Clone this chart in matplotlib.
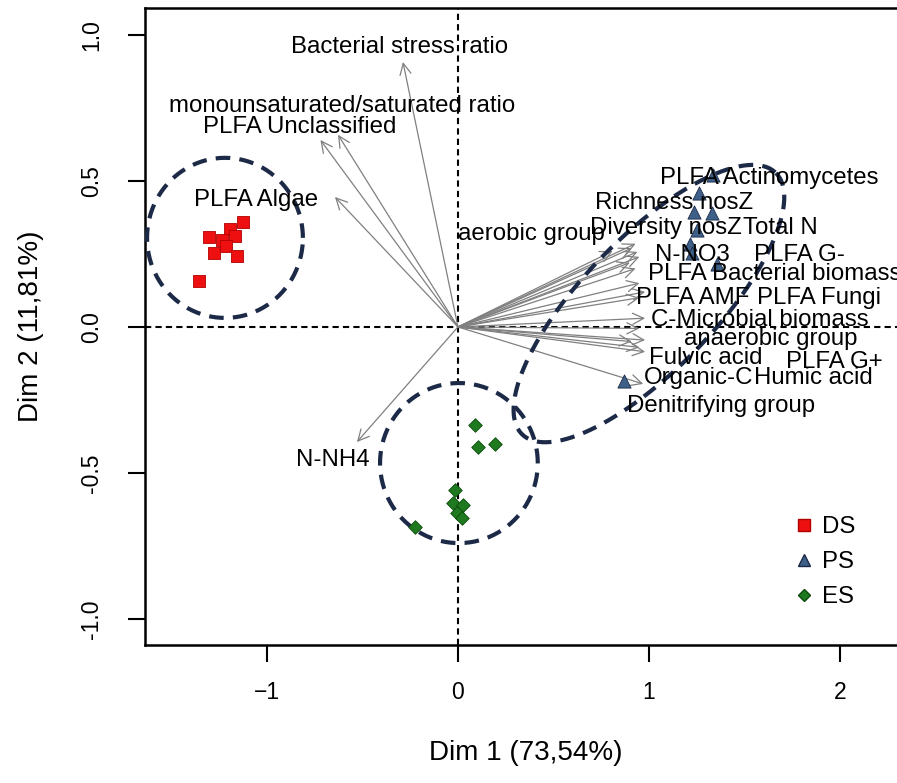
import numpy as np
import matplotlib
matplotlib.use('Agg')
import matplotlib.pyplot as plt
from matplotlib.lines import Line2D

plt.rcParams['font.family'] = ['Liberation Sans', 'DejaVu Sans']

# sample scores (Dim 1, Dim 2)
ds_x = [-1.126, -1.194, -1.304, -1.236, -1.168, -1.215, -1.277, -1.157, -1.356]
ds_y = [0.360, 0.336, 0.308, 0.298, 0.312, 0.277, 0.253, 0.243, 0.158]
ps_x = [1.335, 1.262, 1.236, 1.330, 1.251, 1.215, 1.225, 1.356, 0.869]
ps_y = [0.521, 0.459, 0.394, 0.390, 0.332, 0.284, 0.253, 0.216, -0.185]
es_x = [0.089, 0.105, 0.194, -0.016, -0.026, 0.026, -0.005, 0.021, -0.225]
es_y = [-0.336, -0.411, -0.401, -0.558, -0.603, -0.610, -0.637, -0.654, -0.685]

# variable loadings (arrow tips) and where their names sit
var_names = ['Bacterial stress ratio', 'monounsaturated/saturated ratio', 'PLFA Unclassified',
             'PLFA Algae', 'N-NH4', 'aerobic group', 'PLFA Actinomycetes', 'Richness nosZ',
             'Diversity nosZ', 'Total N', 'N-NO3', 'PLFA G-', 'PLFA Bacterial biomass',
             'PLFA AMF', 'PLFA Fungi', 'C-Microbial biomass', 'anaerobic group',
             'Fulvic acid', 'PLFA G+', 'Organic-C', 'Humic acid', 'Denitrifying group']
var_x = [-0.288, -0.628, -0.720, -0.644, -0.529, 0.81, 0.93, 0.91, 0.94, 0.95, 0.90, 0.93,
         0.95, 0.98, 0.95, 0.98, 0.95, 0.98, 0.95, 0.91, 0.98, 0.97]
var_y = [0.907, 0.658, 0.640, 0.445, -0.394, 0.26, 0.285, 0.27, 0.257, 0.24, 0.22, 0.20,
         0.15, 0.12, 0.10, 0.03, -0.005, -0.045, -0.07, -0.05, -0.085, -0.195]
lab_x = [-0.304, -0.607, -0.827, -1.058, -0.654, 0.387, 1.63, 1.13, 1.09, 1.69, 1.23, 1.79,
         1.66, 1.23, 1.89, 1.58, 1.64, 1.30, 1.97, 1.26, 1.86, 1.38]
lab_y = [0.959, 0.757, 0.685, 0.435, -0.455, 0.318, 0.51, 0.425, 0.34, 0.34, 0.245, 0.245,
         0.18, 0.10, 0.10, 0.025, -0.04, -0.105, -0.12, -0.175, -0.175, -0.27]

# group ellipses: centre, first and second half-axis vectors
ell_cx = [-1.22, 1.0, 0.005]
ell_cy = [0.305, 0.08, -0.466]
ell_ax = [(0.408, 0.0), (0.665, 0.447), (0.413, 0.0)]
ell_bx = [(0.0, 0.274), (0.245, -0.160), (0.0, 0.274)]

fig = plt.figure(figsize=(8.97, 7.83), dpi=100)
ax = fig.add_axes([0.1616, 0.1762, 0.8484, 0.8136])

ax.axhline(0, color='black', ls=(0, (3, 2)), lw=1.5, zorder=1)
ax.axvline(0, color='black', ls=(0, (3, 2)), lw=1.5, zorder=1)

for x, y in zip(var_x, var_y):
    ax.annotate('', xy=(x, y), xytext=(0, 0),
                arrowprops=dict(arrowstyle='->', color='#808080', lw=0.9,
                                shrinkA=0, shrinkB=0, mutation_scale=20), zorder=2)
for name, x, y in zip(var_names, lab_x, lab_y):
    ax.text(x, y, name, ha='center', va='center', fontsize=17.3, color='black', zorder=5)

t = np.linspace(0, 2 * np.pi, 300)
for cx, cy, a, b in zip(ell_cx, ell_cy, ell_ax, ell_bx):
    ex = cx + a[0] * np.cos(t) + b[0] * np.sin(t)
    ey = cy + a[1] * np.cos(t) + b[1] * np.sin(t)
    ax.plot(ex, ey, color='#1c2a48', lw=3, ls=(0, (3.5, 2.2)), zorder=3)

ax.scatter(ds_x, ds_y, marker='s', s=85, color='#ee1010', edgecolors='#b00000', lw=0.6, zorder=4)
ax.scatter(ps_x, ps_y, marker='^', s=90, color='#3d5f88', edgecolors='#1c2a48', lw=0.6, zorder=4)
ax.scatter(es_x, es_y, marker='D', s=48, color='#1f7a1f', edgecolors='#0c4a0c', lw=0.6, zorder=4)

handles = [Line2D([], [], ls='', marker='s', ms=8, color='#ee1010', mec='#b00000'),
           Line2D([], [], ls='', marker='^', ms=8, color='#3d5f88', mec='#1c2a48'),
           Line2D([], [], ls='', marker='D', ms=6, color='#1f7a1f', mec='#0c4a0c')]
ax.legend(handles, ['DS', 'PS', 'ES'], loc='center', bbox_to_anchor=(0.893, 0.13),
          frameon=False, fontsize=17.3, handlelength=0.8, handletextpad=0.35,
          labelspacing=0.55)

ax.set_xlim(-1.639, 2.346)
ax.set_ylim(-1.089, 1.092)
ax.set_xticks([-1, 0, 1, 2])
ax.set_yticks([-1.0, -0.5, 0.0, 0.5, 1.0])
ax.set_yticklabels(['-1.0', '-0.5', '0.0', '0.5', '1.0'])
ax.tick_params(axis='both', labelsize=16.5, length=12, width=1.5, direction='out')
ax.tick_params(axis='x', pad=14)
ax.tick_params(axis='y', pad=18, labelrotation=90)
for lab in ax.get_yticklabels():
    lab.set_va('center')
for side in ['left', 'bottom', 'top', 'right']:
    ax.spines[side].set_linewidth(1.8)

ax.set_xlabel('Dim 1 (73,54%)', fontsize=20, labelpad=26)
ax.set_ylabel('Dim 2 (11,81%)', fontsize=20, labelpad=26)

fig.savefig('out.png', dpi=100)
